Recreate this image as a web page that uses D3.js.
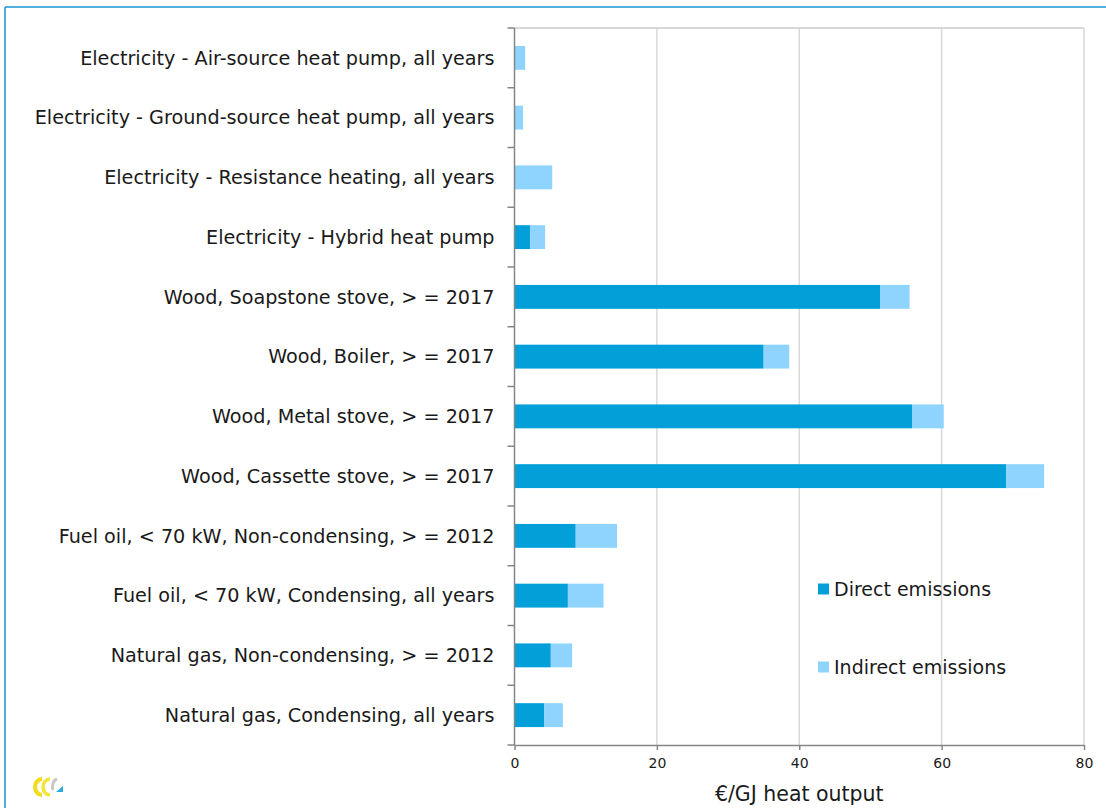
<!DOCTYPE html>
<html>
<head>
<meta charset="utf-8">
<script src="https://cdn.jsdelivr.net/npm/d3@7"></script>
<style>
  html, body { margin: 0; padding: 0; background: #fff; }
  svg { display: block; }
  text { font-family: "DejaVu Sans", sans-serif; fill: #1a1a1a; }
</style>
</head>
<body>
<svg id="chart" width="1106" height="808"></svg>
<script>
const categories = [
  "Electricity - Air-source heat pump, all years",
  "Electricity - Ground-source heat pump, all years",
  "Electricity - Resistance heating, all years",
  "Electricity - Hybrid heat pump",
  "Wood, Soapstone stove, > = 2017",
  "Wood, Boiler, > = 2017",
  "Wood, Metal stove, > = 2017",
  "Wood, Cassette stove, > = 2017",
  "Fuel oil, < 70 kW, Non-condensing, > = 2012",
  "Fuel oil, < 70 kW, Condensing, all years",
  "Natural gas, Non-condensing, > = 2012",
  "Natural gas, Condensing, all years"
];
const directEmissions   = [0,   0,   0,   2.2, 51.4, 35.0, 55.9, 69.1, 8.6, 7.5, 5.1, 4.2];
const indirectEmissions = [1.5, 1.2, 5.3, 2.1,  4.1,  3.6,  4.4,  5.3, 5.8, 5.0, 3.0, 2.6];
const seriesNames = ["Direct emissions", "Indirect emissions"];
const xTicks = [0, 20, 40, 60, 80];
const xTitle = "€/GJ heat output";

const colors = { "Direct emissions": "#029fd9", "Indirect emissions": "#8fd4ff" };

const svg = d3.select("#chart");
const W = 1106, H = 808;
const plot = { left: 514.5, right: 1084, top: 28, bottom: 745 };

// frame lines (blue border at top and left)
svg.append("line").attr("x1", 5).attr("x2", W).attr("y1", 7).attr("y2", 7)
  .attr("stroke", "#1a96d0").attr("stroke-width", 1.5);
svg.append("line").attr("x1", 5).attr("x2", 5).attr("y1", 7).attr("y2", H)
  .attr("stroke", "#1a96d0").attr("stroke-width", 1.5);

const x = d3.scaleLinear().domain([0, 80]).range([plot.left, plot.right]);
const y = d3.scaleBand().domain(categories).range([plot.top, plot.bottom]).paddingInner(0.6).paddingOuter(0.3);

// gridlines
svg.append("g").selectAll("line").data(xTicks.filter(t => t > 0)).join("line")
  .attr("x1", d => x(d)).attr("x2", d => x(d))
  .attr("y1", plot.top).attr("y2", plot.bottom)
  .attr("stroke", "#d9d9d9").attr("stroke-width", 1.5);
// top border of plot area
svg.append("line").attr("x1", plot.left).attr("x2", plot.right)
  .attr("y1", plot.top).attr("y2", plot.top)
  .attr("stroke", "#d9d9d9").attr("stroke-width", 2);

// stacked data
const rows = categories.map((c, i) => ({ cat: c, "Direct emissions": directEmissions[i], "Indirect emissions": indirectEmissions[i] }));
const stack = d3.stack().keys(seriesNames)(rows);

svg.append("g").selectAll("g").data(stack).join("g")
  .attr("fill", d => colors[d.key])
  .selectAll("rect").data(d => d).join("rect")
  .attr("x", d => x(d[0]))
  .attr("width", d => Math.max(0, x(d[1]) - x(d[0])))
  .attr("y", d => y(d.data.cat))
  .attr("height", y.bandwidth());

// x axis
const xAxis = svg.append("g").attr("transform", `translate(0,${plot.bottom})`)
  .call(d3.axisBottom(x).tickValues(xTicks).tickSize(5).tickPadding(8).tickSizeOuter(0));
xAxis.select(".domain").attr("stroke", "#868686").attr("stroke-width", 1.5);
xAxis.selectAll(".tick line").attr("stroke", "#868686").attr("stroke-width", 1.5);
xAxis.selectAll(".tick text").style("font-size", "14px").attr("fill", "#1a1a1a");

// y axis: ticks at band boundaries
const boundaries = d3.range(categories.length + 1).map(i => plot.top + i * (plot.bottom - plot.top) / categories.length);
svg.append("g").selectAll("line").data(boundaries).join("line")
  .attr("x1", plot.left - 7).attr("x2", plot.left)
  .attr("y1", d => d).attr("y2", d => d)
  .attr("stroke", "#868686").attr("stroke-width", 1.5);
svg.append("line").attr("x1", plot.left).attr("x2", plot.left)
  .attr("y1", plot.top).attr("y2", plot.bottom)
  .attr("stroke", "#868686").attr("stroke-width", 1.5);
svg.append("g").selectAll("text").data(categories).join("text")
  .attr("x", plot.left - 20)
  .attr("y", d => y(d) + y.bandwidth() / 2)
  .attr("dy", "0.35em")
  .attr("text-anchor", "end")
  .style("font-size", "19.2px")
  .text(d => d);

// x title
svg.append("text").attr("x", (plot.left + plot.right) / 2).attr("y", 801)
  .attr("text-anchor", "middle").style("font-size", "20.5px").text(xTitle);

// legend
const legendY = [589, 667];
const lg = svg.append("g").selectAll("g").data(seriesNames).join("g")
  .attr("transform", (d, i) => `translate(818,${legendY[i]})`);
lg.append("rect").attr("x", 0).attr("y", -5.5).attr("width", 11).attr("height", 11)
  .attr("fill", d => colors[d]);
lg.append("text").attr("x", 16).attr("dy", "0.35em").style("font-size", "19px").text(d => d);

// small logo mark (decorative)
const logo = svg.append("g").attr("transform", "translate(33,778)");
logo.append("path").attr("d", "M9,1 A7,8 0 1 0 9,17").attr("fill", "none")
  .attr("stroke", "#f2dc1c").attr("stroke-width", 4);
logo.append("path").attr("d", "M17,1 A7,8 0 1 0 17,17").attr("fill", "none")
  .attr("stroke", "#f5e43a").attr("stroke-width", 3.5);
logo.append("path").attr("d", "M24,1 A6,8 0 0 0 20,12").attr("fill", "none")
  .attr("stroke", "#c8c8c8").attr("stroke-width", 3);
logo.append("path").attr("d", "M23,14 L30,8 L30,14 Z").attr("fill", "#29a8e0");
</script>
</body>
</html>
